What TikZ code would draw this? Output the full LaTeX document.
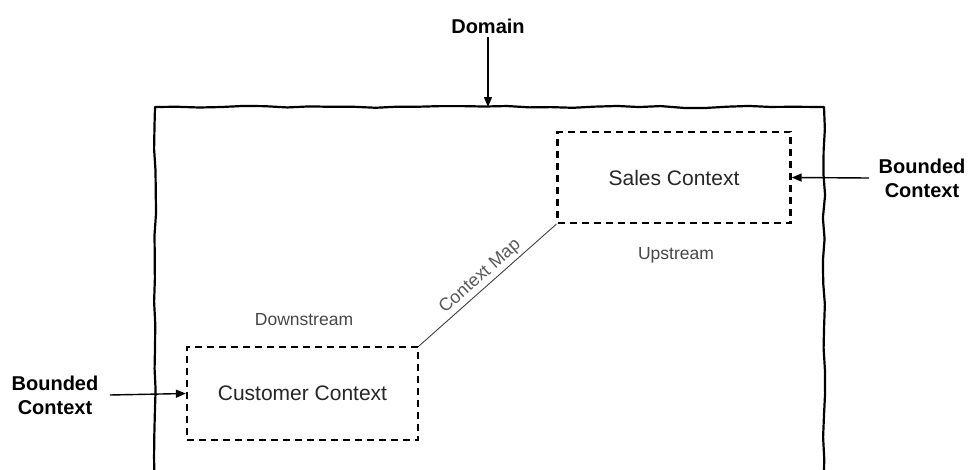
\documentclass[tikz,border=0pt]{standalone}
\usepackage{fontspec}
\setmainfont{Liberation Sans}
\usetikzlibrary{arrows.meta,decorations.pathmorphing}
\pgfmathsetseed{7}
\begin{document}
\begin{tikzpicture}[x=1pt,y=-1pt,
  sketch/.style={line width=2.2pt,line join=round,decorate,
    decoration={random steps,segment length=22pt,amplitude=1.1pt}},
  ctxbox/.style={draw,line width=2.3pt,dash pattern=on 7pt off 5pt,
    minimum width=231pt,minimum height=92pt,inner sep=0pt,
    font=\fontsize{21}{24}\selectfont,text=black!85},
  callout/.style={font=\bfseries\fontsize{20}{24}\selectfont,align=center,text=black},
  streamlbl/.style={font=\fontsize{17.5}{20}\selectfont,text=black!72},
  maplbl/.style={font=\fontsize{18}{20}\selectfont,text=black!65,inner sep=2.5pt},
  pointer/.style={line width=1.4pt,-{Triangle[length=10pt,width=8pt]}}]
\useasboundingbox (0,0) rectangle (970,469);
\clip (0,0) rectangle (970,469);
\fill[white] (0,0) rectangle (970,469);
% domain frame (sketchy)
\draw[sketch] (155,107) -- (824,107) -- (824,500) -- (155,500) -- cycle;
\coordinate (frametop) at (488,107);
% boxes
\node[ctxbox,minimum width=233pt,minimum height=91pt] (sales) at (674,177.5) {Sales Context};
\node[ctxbox,minimum width=231pt,minimum height=93pt] (cust) at (302.5,393.5) {Customer Context};
% labels
\node[callout] (domain) at (488,26) {Domain};
\node[callout] (bcright) at (922,178) {Bounded\\Context};
\node[callout] (bcleft) at (55,395) {Bounded\\Context};
\node[streamlbl] (up) at (676,255) {Upstream};
\node[streamlbl] (down) at (304,320) {Downstream};
% connectors
\draw[pointer] (domain.south) -- (frametop);
\draw[pointer] (bcright.west) ++(-6,0) coordinate (brs) -- (sales.east);
\draw[pointer] (bcleft.east) ++(8,0) coordinate (bls) -- (cust.west);
\draw[line width=0.9pt,black!75] (cust.north east) -- node[sloped,above,pos=0.5,maplbl] {Context Map} (sales.south west);
\end{tikzpicture}
\end{document}
